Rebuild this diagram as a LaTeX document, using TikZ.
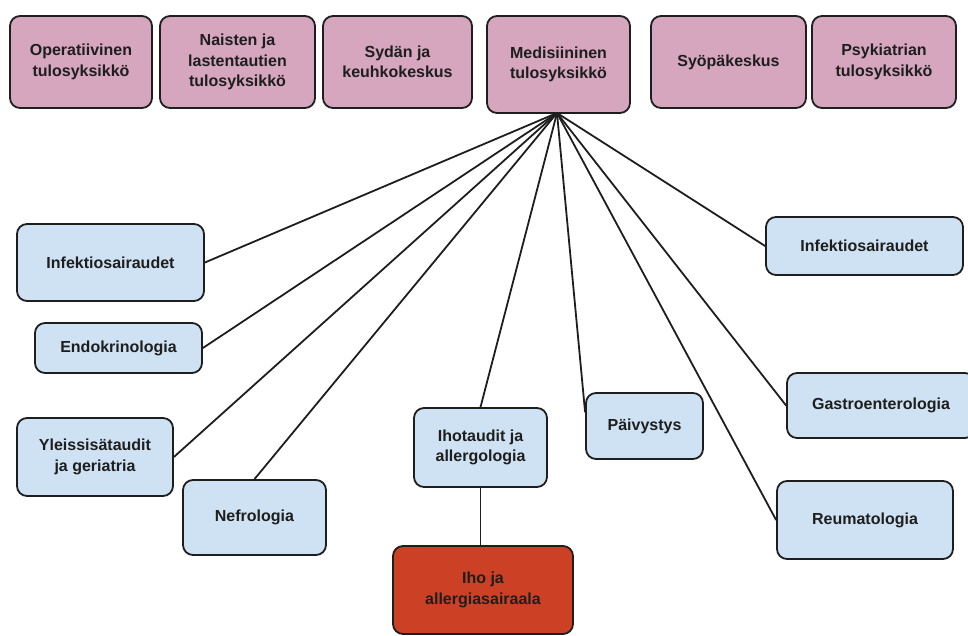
\documentclass[tikz,border=0pt]{standalone}
\usepackage{fontspec}
\setmainfont{Liberation Sans}
\definecolor{unitpink}{HTML}{D5A6BD}
\definecolor{deptblue}{HTML}{CFE2F3}
\definecolor{wardred}{HTML}{CC4125}
\definecolor{inkdark}{HTML}{1E1E1E}
\tikzset{
	box/.style={draw=inkdark, line width=1.8pt, rounded corners=10pt, align=center, text=inkdark,
		font=\fontsize{16}{20.5}\selectfont\bfseries, inner sep=2pt},
	unit/.style={box, fill=unitpink, minimum height=92pt},
	dept/.style={box, fill=deptblue},
	ward/.style={box, fill=wardred},
	link/.style={draw=inkdark, line width=1.8pt}
}

\begin{document}
\begin{tikzpicture}[x=1pt,y=-1pt]
	\useasboundingbox (0,0) rectangle (968,636);

	\node[unit, minimum width=142pt] (oper) at (81,62) {Operatiivinen\\tulosyksikkö};
	\node[unit, minimum width=155pt] (naist) at (237.5,62) {Naisten ja\\lastentautien\\tulosyksikkö};
	\node[unit, minimum width=149pt] (sydan) at (397.5,62) {Sydän ja\\keuhkokeskus};
	\node[unit, minimum width=143pt, minimum height=97pt] (medis) at (558.5,64.5) {Medisiininen\\tulosyksikkö};
	\node[unit, minimum width=155pt] (syopa) at (728.5,62) {Syöpäkeskus};
	\node[unit, minimum width=144pt] (psyk) at (884,62) {Psykiatrian\\tulosyksikkö};

	\node[dept, minimum width=187pt, minimum height=77pt] (infekL) at (110.5,262.5) {Infektiosairaudet};
	\node[dept, minimum width=167pt, minimum height=50pt] (endok) at (118.5,348) {Endokrinologia};
	\node[dept, minimum width=156pt, minimum height=78pt] (yleis) at (95,457) {Yleissisätaudit\\ja geriatria};
	\node[dept, minimum width=143pt, minimum height=75pt] (nefro) at (254.5,517.5) {Nefrologia};
	\node[dept, minimum width=133pt, minimum height=79pt] (ihot) at (480.5,447.5) {Ihotaudit ja\\allergologia};
	\node[dept, minimum width=117pt, minimum height=66pt] (paivy) at (644.5,426) {Päivystys};
	\node[dept, minimum width=197pt, minimum height=58pt] (infekR) at (864.5,246) {Infektiosairaudet};
	\node[dept, minimum width=188pt, minimum height=65pt] (gastro) at (881,405.5) {Gastroenterologia};
	\node[dept, minimum width=176pt, minimum height=78pt] (reuma) at (865,520) {Reumatologia};

	\node[ward, minimum width=180pt, minimum height=88pt] (iholab) at (483,590) {Iho ja\\allergiasairaala};

	\coordinate (hub) at (557,113);
	\draw[link] (hub) -- (infekL.east);
	\draw[link] (hub) -- (endok.east);
	\draw[link] (hub) -- (yleis.east);
	\draw[link] (hub) -- (nefro.north);
	\draw[link] (hub) -- (ihot.north);
	\draw[link] (hub) -- (paivy.167);
	\draw[link] (hub) -- (reuma.west);
	\draw[link] (hub) -- (gastro.west);
	\draw[link] (hub) -- (infekR.west);
	\draw[link] (ihot.south) -- (ihot.south |- iholab.north);
\end{tikzpicture}
\end{document}
